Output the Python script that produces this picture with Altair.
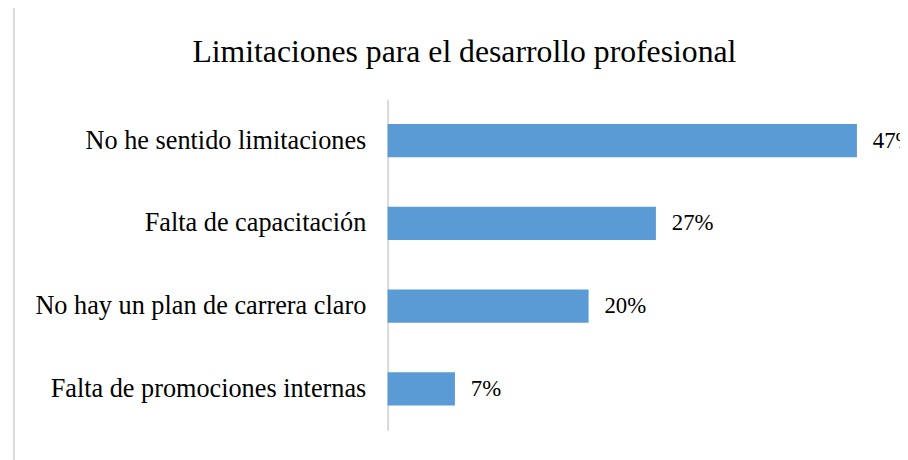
import altair as alt
import pandas as pd

categories = [
    "No he sentido limitaciones",
    "Falta de capacitación",
    "No hay un plan de carrera claro",
    "Falta de promociones internas",
]
values = [46.7, 26.7, 20.0, 6.7]

df = pd.DataFrame({"cat": categories, "pct": values})

FONT = "Liberation Serif"

base = alt.Chart(df).encode(
    y=alt.Y(
        "cat:N",
        sort=categories,
        scale=alt.Scale(paddingInner=0.6, paddingOuter=0.3),
        axis=alt.Axis(
            title=None,
            ticks=False,
            grid=False,
            domainColor="#d9d9d9",
            domainWidth=2,
            labelFont=FONT,
            labelFontSize=26.5,
            labelColor="#000000",
            labelPadding=22,
            labelLimit=600,
        ),
    ),
    x=alt.X("pct:Q", scale=alt.Scale(domain=[0, 50], nice=False), axis=None),
)

bars = base.mark_bar(color="#5B9BD5")
labels = base.mark_text(
    align="left", baseline="middle", dx=16, font=FONT, fontSize=23, color="#000000"
).transform_calculate(label="format(datum.pct, '.0f') + '%'").encode(text="label:N")

frame = alt.Chart(df).mark_rule(color="#d9d9d9", strokeWidth=2).encode(
    x=alt.value(-377), y=alt.value(-100), y2=alt.value(370)
)

chart = (
    alt.layer(frame, bars, labels)
    .properties(
        width=507,
        height=334,
        padding={"left": 383, "top": 90, "right": 10, "bottom": 28},
        autosize=alt.AutoSizeParams(type="none"),
        title=alt.Title(
            "Limitaciones para el desarrollo profesional",
            font=FONT,
            fontSize=32,
            fontWeight="normal",
            color="#000000",
            anchor="middle",
            dx=-176,
            dy=60,
            offset=-10,
        ),
    )
    .configure_view(stroke=None)
    .configure_mark(font=FONT)
    .configure_text(font=FONT)
)

chart.save("out.html", embed_options={"renderer": "svg", "actions": False})
